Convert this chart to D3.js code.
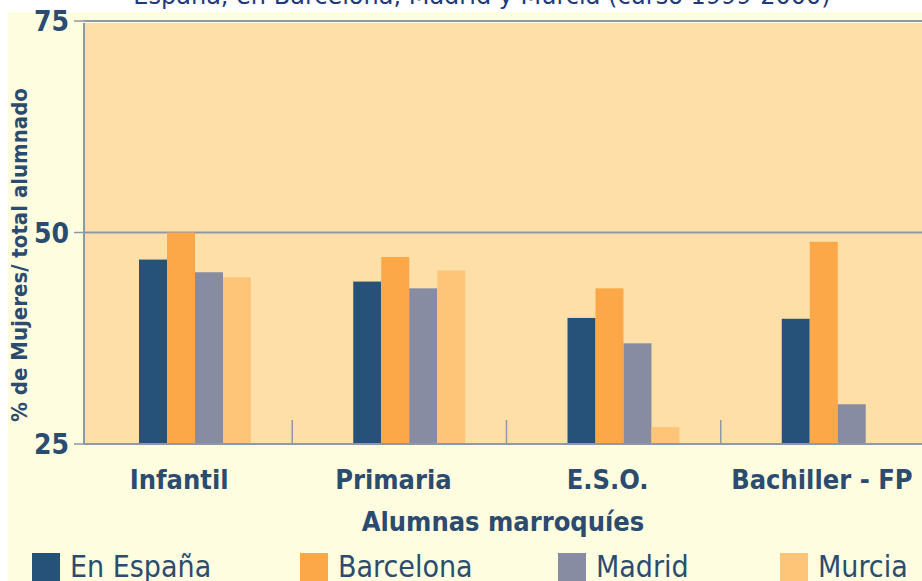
<!DOCTYPE html>
<html>
<head>
<meta charset="utf-8">
<script src="https://cdn.jsdelivr.net/npm/d3@7"></script>
<style>
  html, body { margin: 0; padding: 0; background: #ffffff; }
  svg { display: block; }
</style>
</head>
<body>
<div id="chart"></div>
<script>
// Alumnas marroquíes: % de mujeres sobre total alumnado
const categories = ['Infantil', 'Primaria', 'E.S.O.', 'Bachiller - FP'];
const series = ['En España', 'Barcelona', 'Madrid', 'Murcia'];
const espana    = [46.8, 44.2, 39.9, 39.8];
const barcelona = [50.0, 47.1, 43.4, 48.9];
const madrid    = [45.3, 43.4, 36.9, 29.7];
const murcia    = [44.7, 45.5, 27.0, null];
const yTicks = [25, 50, 75];

const colors = ['#26527a', '#fda848', '#878ca3', '#fec578'];
const textColor = '#2b4b6f';
const gridColor = '#8d99a5';
const font = '"Liberation Sans Narrow", "DejaVu Sans Condensed", sans-serif';

const W = 922, H = 581;
const plot = { left: 84, right: 922, top: 21, bottom: 444 };

const svg = d3.select('#chart').append('svg')
  .attr('width', W).attr('height', H);

// title (cut at top, as in the source)
svg.append('text')
  .attr('x', 482).attr('y', 4)
  .attr('text-anchor', 'middle')
  .attr('fill', '#1e3a7b')
  .attr('font-family', '"DejaVu Sans", sans-serif')
  .attr('font-size', 24)
  .text('España, en Barcelona, Madrid y Murcia (curso 1999-2000)');

// cream panel
svg.append('rect')
  .attr('x', 8).attr('y', 12).attr('width', W - 8).attr('height', H - 12)
  .attr('fill', '#fefde0');

// plot area
svg.append('rect')
  .attr('x', plot.left).attr('y', 23)
  .attr('width', plot.right - plot.left).attr('height', plot.bottom - 23)
  .attr('fill', '#fedfa8');

const y = d3.scaleLinear().domain([25, 75]).range([plot.bottom, plot.top]);
const x0 = d3.scaleBand().domain(categories).range([78, 935]);
const x1 = d3.scaleBand().domain(series).range([61, 173]);

const values = [espana, barcelona, madrid, murcia];

// gridlines
svg.append('g').selectAll('line')
  .data(yTicks.filter(t => t > 25))
  .join('line')
  .attr('x1', plot.left).attr('x2', plot.right)
  .attr('y1', d => y(d)).attr('y2', d => y(d))
  .attr('stroke', gridColor).attr('stroke-width', 2);

// bars
const groups = svg.append('g').selectAll('g')
  .data(categories)
  .join('g')
  .attr('transform', d => `translate(${x0(d)},0)`);

groups.selectAll('rect')
  .data((c, i) => series.map((s, j) => ({ s, j, v: values[j][i] })).filter(d => d.v != null))
  .join('rect')
  .attr('x', d => x1(d.s))
  .attr('width', x1.bandwidth())
  .attr('y', d => y(d.v))
  .attr('height', d => y(25) - y(d.v))
  .attr('fill', d => colors[d.j]);

// category separators
svg.append('g').selectAll('line')
  .data(categories.slice(1))
  .join('line')
  .attr('x1', d => x0(d)).attr('x2', d => x0(d))
  .attr('y1', plot.bottom).attr('y2', plot.bottom - 24)
  .attr('stroke', gridColor).attr('stroke-width', 1.5);

// axes lines
svg.append('line')
  .attr('x1', plot.left).attr('x2', plot.right)
  .attr('y1', plot.bottom).attr('y2', plot.bottom)
  .attr('stroke', gridColor).attr('stroke-width', 2);
svg.append('line')
  .attr('x1', plot.left).attr('x2', plot.left)
  .attr('y1', 23).attr('y2', plot.bottom)
  .attr('stroke', gridColor).attr('stroke-width', 2);

// y ticks
svg.append('g').selectAll('line')
  .data(yTicks)
  .join('line')
  .attr('x1', 74).attr('x2', plot.left)
  .attr('y1', d => y(d)).attr('y2', d => y(d))
  .attr('stroke', gridColor).attr('stroke-width', 1.5);

svg.append('g').selectAll('text')
  .data(yTicks)
  .join('text')
  .attr('x', 69).attr('y', d => y(d))
  .attr('dy', '0.36em')
  .attr('text-anchor', 'end')
  .attr('fill', textColor)
  .attr('font-family', font).attr('font-weight', 'bold')
  .attr('font-size', 28)
  .text(d => d);

// y title
svg.append('text')
  .attr('transform', 'translate(27,255) rotate(-90)')
  .attr('text-anchor', 'middle')
  .attr('fill', textColor)
  .attr('font-family', font).attr('font-weight', 'bold')
  .attr('font-size', 22)
  .text('% de Mujeres/ total alumnado');

// category labels
svg.append('g').selectAll('text')
  .data(categories)
  .join('text')
  .attr('x', d => x0(d) + x0.bandwidth() / 2 - 6)
  .attr('y', 489)
  .attr('text-anchor', 'middle')
  .attr('fill', textColor)
  .attr('font-family', font).attr('font-weight', 'bold')
  .attr('font-size', 27)
  .text(d => d);

// x title
svg.append('text')
  .attr('x', 503).attr('y', 531)
  .attr('text-anchor', 'middle')
  .attr('fill', textColor)
  .attr('font-family', font).attr('font-weight', 'bold')
  .attr('font-size', 27)
  .text('Alumnas marroquíes');

// legend
const legendX = [32, 300, 558, 780];
const leg = svg.append('g').selectAll('g')
  .data(series)
  .join('g')
  .attr('transform', (d, i) => `translate(${legendX[i]},553)`);
leg.append('rect')
  .attr('width', 28).attr('height', 30)
  .attr('fill', (d, i) => colors[i]);
leg.append('text')
  .attr('x', 38).attr('y', 24)
  .attr('fill', textColor)
  .attr('font-family', font)
  .attr('font-size', 30)
  .text(d => d);
</script>
</body>
</html>
